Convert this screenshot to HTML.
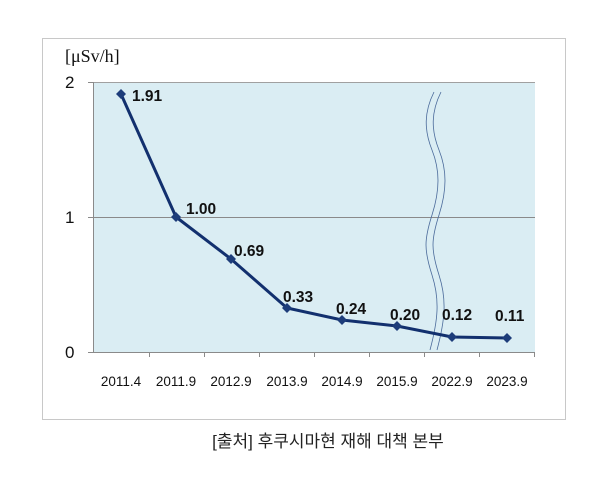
<!DOCTYPE html>
<html><head><meta charset="utf-8"><style>body{margin:0;background:#fff}</style></head><body>
<svg width="600" height="487" xmlns="http://www.w3.org/2000/svg" font-family="Liberation Sans, DejaVu Sans, sans-serif">
<rect x="42.5" y="38.5" width="523" height="381" fill="#fff" stroke="#c8c8c8"/>
<rect x="94" y="82" width="441" height="270" fill="#daedf3"/>
<line x1="94" y1="82.5" x2="535" y2="82.5" stroke="#a0a0a0"/>
<line x1="94" y1="217.5" x2="535" y2="217.5" stroke="#8a8a8a"/>
<line x1="93.5" y1="82" x2="93.5" y2="352" stroke="#8a8a8a"/>
<line x1="94" y1="352.5" x2="535" y2="352.5" stroke="#8a8a8a"/>
<g stroke="#8a8a8a"><line x1="88" y1="82.5" x2="94" y2="82.5"/><line x1="88" y1="217.5" x2="94" y2="217.5"/><line x1="88" y1="352.5" x2="94" y2="352.5"/>
<line x1="149.5" y1="352" x2="149.5" y2="357"/><line x1="204.5" y1="352" x2="204.5" y2="357"/><line x1="259.5" y1="352" x2="259.5" y2="357"/><line x1="314.5" y1="352" x2="314.5" y2="357"/><line x1="369.5" y1="352" x2="369.5" y2="357"/><line x1="424.5" y1="352" x2="424.5" y2="357"/><line x1="479.5" y1="352" x2="479.5" y2="357"/><line x1="534.5" y1="352" x2="534.5" y2="357"/></g>
<g fill="none" stroke="#4a6a9a" stroke-width="0.8">
<path d="M434 92 C424 112,424 130,432 150 S440 190,432 215 S424 250,432 275 S438 320,430 350"/>
<path d="M441 92 C431 112,431 130,439 150 S447 190,439 215 S431 250,439 275 S445 320,437 350"/>
</g>
<polyline points="121,94 176,217 231,259 287,308 342,320 397,326 452,337 507,338" fill="none" stroke="#12306e" stroke-width="3"/>
<g fill="#1d3d7a">
<path d="M121 89l5 5-5 5-5-5z"/><path d="M176 212l5 5-5 5-5-5z"/><path d="M231 254l5 5-5 5-5-5z"/><path d="M287 303l5 5-5 5-5-5z"/><path d="M342 315l5 5-5 5-5-5z"/><path d="M397 321l5 5-5 5-5-5z"/><path d="M452 332l5 5-5 5-5-5z"/><path d="M507 333l5 5-5 5-5-5z"/>
</g>
<g font-weight="bold" font-size="15.5" fill="#111">
<text x="132" y="101">1.91</text><text x="186" y="214">1.00</text><text x="234" y="256">0.69</text><text x="283" y="302">0.33</text><text x="336" y="314">0.24</text><text x="390" y="320">0.20</text><text x="442" y="320">0.12</text><text x="495" y="321">0.11</text>
</g>
<g font-size="17" fill="#111"><text x="65" y="88">2</text><text x="65" y="223">1</text><text x="65" y="358">0</text></g>
<text x="65" y="62" font-family="Liberation Serif, serif" font-size="18" fill="#111">[μSv/h]</text>
<g font-size="13.5" fill="#111" text-anchor="middle">
<text x="121" y="386">2011.4</text><text x="176" y="386">2011.9</text><text x="231" y="386">2012.9</text><text x="287" y="386">2013.9</text><text x="342" y="386">2014.9</text><text x="397" y="386">2015.9</text><text x="452" y="386">2022.9</text><text x="507" y="386">2023.9</text>
</g>
<text x="328" y="447" text-anchor="middle" font-family="Liberation Sans, Noto Sans CJK KR, sans-serif" font-size="17" fill="#222">[출처] 후쿠시마현 재해 대책 본부</text>
</svg>
</body></html>
